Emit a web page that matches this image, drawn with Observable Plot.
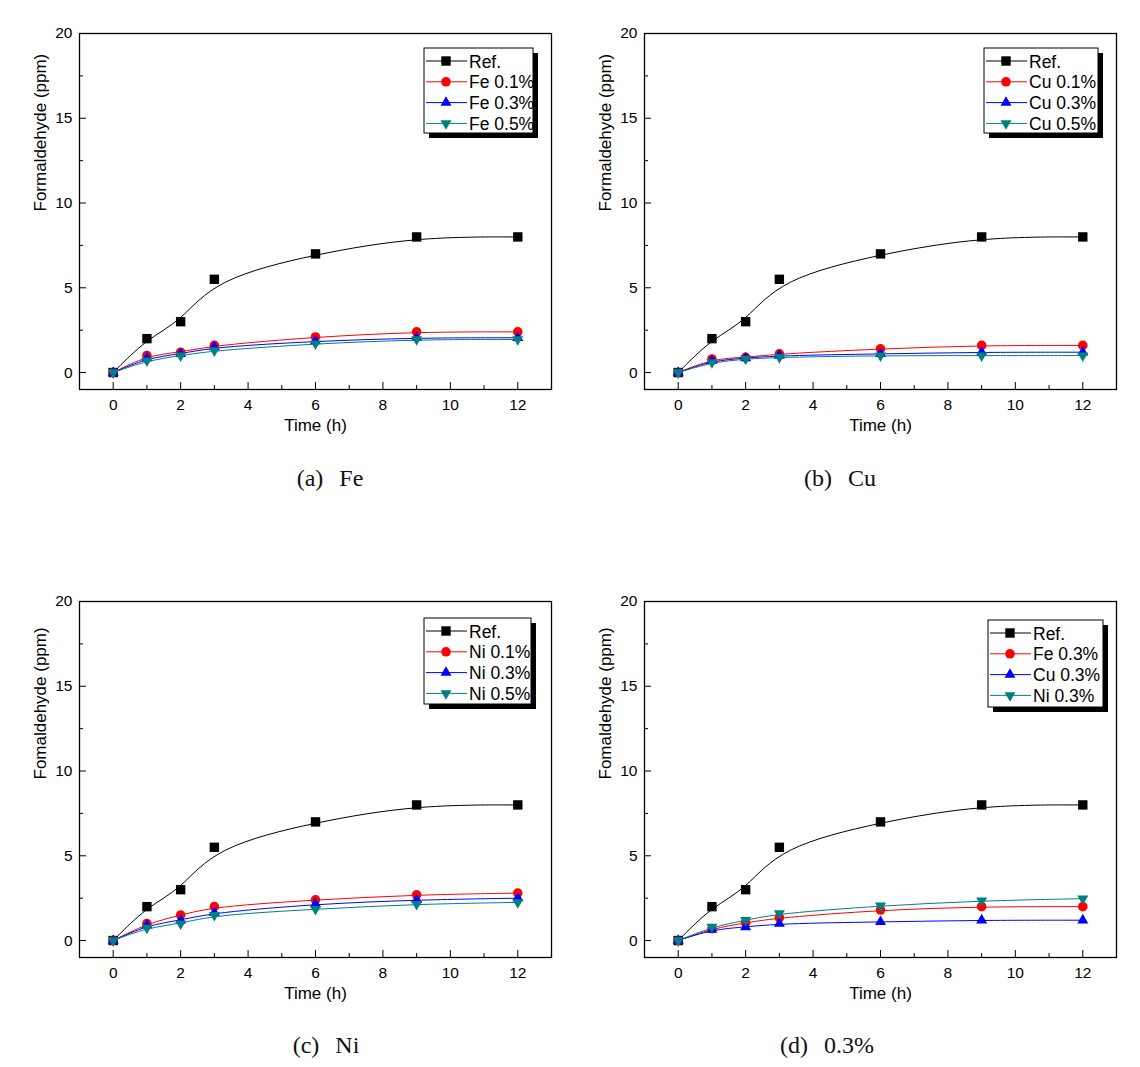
<!DOCTYPE html>
<html>
<head>
<meta charset="utf-8">
<script src="https://cdn.jsdelivr.net/npm/d3@7"></script>
<script src="https://cdn.jsdelivr.net/npm/@observablehq/plot@0.6"></script>
<style>
  html, body { margin: 0; padding: 0; background: #fff; }
  #page { position: relative; width: 1140px; height: 1067px; overflow: hidden; background: #fff; }
  .panel { position: absolute; }
  .caption { position: absolute; transform: translate(-50%, -50%); font-family: "Liberation Serif", "DejaVu Serif", serif; font-size: 24px; color: #111; white-space: pre; word-spacing: 10px; }
</style>
</head>
<body>
<div id="page"></div>
<script>
// ---- data ----
const times = [0, 1, 2, 3, 6, 9, 12];
const refValues = [0, 2.0, 3.0, 5.5, 7.0, 8.0, 8.0];

const fe01 = [0, 1.0, 1.2, 1.6, 2.1, 2.4, 2.4];
const fe03 = [0, 0.85, 1.1, 1.5, 1.85, 2.05, 2.05];
const fe05 = [0, 0.7, 1.0, 1.3, 1.7, 1.95, 1.95];

const cu01 = [0, 0.8, 0.9, 1.1, 1.4, 1.6, 1.6];
const cu03 = [0, 0.7, 0.85, 1.0, 1.1, 1.2, 1.2];
const cu05 = [0, 0.6, 0.8, 0.9, 1.0, 1.0, 1.0];

const ni01 = [0, 1.0, 1.5, 2.0, 2.4, 2.7, 2.8];
const ni03 = [0, 0.9, 1.2, 1.65, 2.15, 2.4, 2.5];
const ni05 = [0, 0.75, 1.0, 1.5, 1.85, 2.15, 2.25];

const cmpFe03 = [0, 0.7, 1.05, 1.35, 1.8, 2.0, 2.0];
const cmpCu03 = [0, 0.65, 0.8, 1.0, 1.1, 1.2, 1.2];
const cmpNi03 = [0, 0.8, 1.2, 1.6, 2.05, 2.35, 2.47];

const xMajorTicks = [0, 2, 4, 6, 8, 10, 12];
const xMinorTicks = [-1, 1, 3, 5, 7, 9, 11, 13];
const yMajorTicks = [0, 5, 10, 15, 20];
const yMinorTicks = [2.5, 7.5, 12.5, 17.5];

const panelLabels = ["Fe", "Cu", "Ni", "0.3%"];
const panelLetters = ["(a)", "(b)", "(c)", "(d)"];
const yTitles = ["Formaldehyde (ppm)", "Formaldehyde (ppm)", "Fomaldehyde (ppm)", "Fomaldehyde (ppm)"];
const xTitle = "Time (h)";

// ---- styles ----
const triangleDown = {
  draw(ctx, size) {
    const y = -Math.sqrt(size / (Math.sqrt(3) * 3));
    ctx.moveTo(0, -y * 2);
    ctx.lineTo(-Math.sqrt(3) * y, y);
    ctx.lineTo(Math.sqrt(3) * y, y);
    ctx.closePath();
  }
};
const styles = [
  {color: "#000000", symbol: d3.symbolSquare, r: 5.3},
  {color: "#ff0000", symbol: d3.symbolCircle, r: 4.8},
  {color: "#0000ff", symbol: d3.symbolTriangle, r: 4.1},
  {color: "#008080", symbol: triangleDown, r: 4.1}
];

const panels = [
  {names: ["Ref.", "Fe 0.1%", "Fe 0.3%", "Fe 0.5%"], values: [refValues, fe01, fe03, fe05],
   left: 0, top: 0, legend: {x: 424, y: 48, w: 109, h: 85}, cap: [330, 478]},
  {names: ["Ref.", "Cu 0.1%", "Cu 0.3%", "Cu 0.5%"], values: [refValues, cu01, cu03, cu05],
   left: 565, top: 0, legend: {x: 419, y: 48, w: 114, h: 85}, cap: [840, 478]},
  {names: ["Ref.", "Ni 0.1%", "Ni 0.3%", "Ni 0.5%"], values: [refValues, ni01, ni03, ni05],
   left: 0, top: 568, legend: {x: 424, y: 50, w: 107, h: 86}, cap: [326, 1045]},
  {names: ["Ref.", "Fe 0.3%", "Cu 0.3%", "Ni 0.3%"], values: [refValues, cmpFe03, cmpCu03, cmpNi03],
   left: 565, top: 568, legend: {x: 423, y: 52, w: 115, h: 87}, cap: [827, 1045]}
];

const page = document.getElementById("page");
const W = 570, H = 460;
const mL = 79, mR = 19, mT = 33, mB = 71;

panels.forEach((p, pi) => {
  const marks = [];
  p.names.forEach((name, si) => {
    const st = styles[si];
    const rows = times.map((t, i) => ({t, v: p.values[si][i], name}));
    marks.push(Plot.line(rows, {x: "t", y: "v", stroke: st.color, strokeWidth: 1, curve: "basis"}));
    marks.push(Plot.dot(rows, {x: "t", y: "v", fill: st.color, stroke: "none", symbol: st.symbol, r: st.r}));
  });

  const svg = Plot.plot({
    width: W, height: H,
    marginLeft: mL, marginRight: mR, marginTop: mT, marginBottom: mB,
    style: {fontFamily: "'Liberation Sans', Arial, sans-serif", fontSize: "15px", color: "#000", background: "transparent", overflow: "visible"},
    x: {domain: [-1, 13]},
    y: {domain: [-1, 20]},
    marks: [
      Plot.axisX(xMajorTicks, {tickSize: -7, fill: "none", label: null}),
      Plot.axisX(xMinorTicks, {tickSize: -4, fill: "none", label: null}),
      Plot.axisX(xMajorTicks, {tickSize: 0, tickPadding: 9, fontSize: 15.5, label: null}),
      Plot.axisY(yMajorTicks, {tickSize: -7, fill: "none", label: null}),
      Plot.axisY(yMinorTicks, {tickSize: -4, fill: "none", label: null}),
      Plot.axisY(yMajorTicks, {tickSize: 0, tickPadding: 7, fontSize: 15.5, label: null}),
      Plot.text([yTitles[pi]], {frameAnchor: "left", dx: -39, rotate: -90, fontSize: 17, fill: "#000"}),
      Plot.text([xTitle], {frameAnchor: "bottom", dy: 41, fontSize: 17, fill: "#000"}),
      ...marks,
      Plot.frame({stroke: "#000", strokeWidth: 1.3})
    ]
  });

  // legend box
  const L = p.legend;
  const g = d3.select(svg).append("g")
    .style("font-family", "'Liberation Sans', Arial, sans-serif")
    .style("font-size", "17.5px")
    .attr("text-anchor", "start");
  g.append("rect").attr("x", L.x + 5).attr("y", L.y + 5).attr("width", L.w).attr("height", L.h).attr("fill", "#000");
  g.append("rect").attr("x", L.x).attr("y", L.y).attr("width", L.w).attr("height", L.h).attr("fill", "#fff").attr("stroke", "#000").attr("stroke-width", 1);
  p.names.forEach((name, si) => {
    const st = styles[si];
    const cy = L.y + 13 + si * 20.8;
    g.append("line").attr("x1", L.x + 2).attr("x2", L.x + 43).attr("y1", cy).attr("y2", cy).attr("stroke", st.color).attr("stroke-width", 1);
    g.append("path").attr("transform", `translate(${L.x + 22},${cy})`)
      .attr("d", d3.symbol(st.symbol, st.r * st.r * Math.PI)()).attr("fill", st.color);
    g.append("text").attr("x", L.x + 45).attr("y", cy + 6.5).attr("fill", "#000").attr("text-anchor", "start").text(name);
  });

  const div = document.createElement("div");
  div.className = "panel";
  div.style.left = p.left + "px";
  div.style.top = p.top + "px";
  div.appendChild(svg);
  page.appendChild(div);

  const cap = document.createElement("div");
  cap.className = "caption";
  cap.style.left = p.cap[0] + "px";
  cap.style.top = p.cap[1] + "px";
  cap.textContent = panelLetters[pi] + " " + panelLabels[pi];
  page.appendChild(cap);
});
</script>
</body>
</html>
